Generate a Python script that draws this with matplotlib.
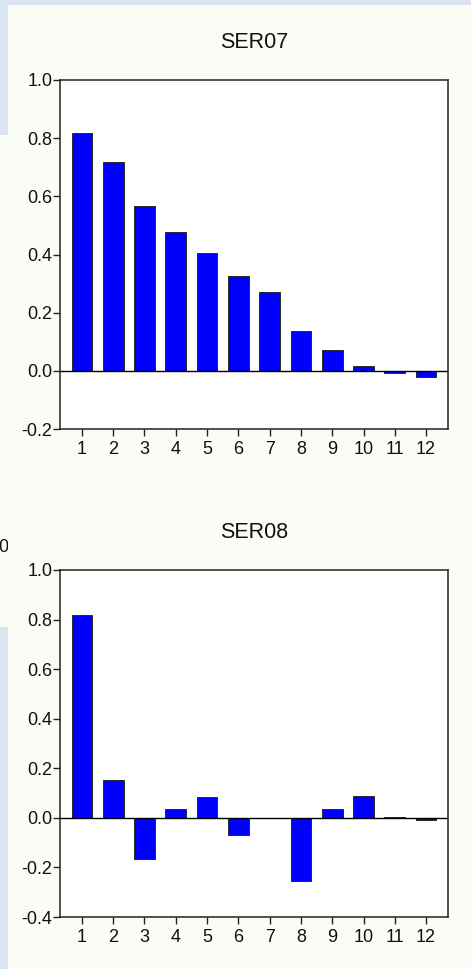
import matplotlib
matplotlib.use("Agg")
import matplotlib.pyplot as plt
from matplotlib.patches import Rectangle
from matplotlib.transforms import Bbox, TransformedBbox

# Correlogram values per lag
lags = list(range(1, 13))
ser07 = [0.818, 0.718, 0.568, 0.476, 0.404, 0.325, 0.271, 0.137, 0.070, 0.016, -0.009, -0.022]
ser08 = [0.817, 0.151, -0.165, 0.035, 0.083, -0.068, 0.0, -0.253, 0.035, 0.088, 0.002, -0.007]
titles = ["SER07", "SER08"]
ylims = [(-0.2, 1.0), (-0.4, 1.0)]
yticks = [[-0.2, 0.0, 0.2, 0.4, 0.6, 0.8, 1.0],
          [-0.4, -0.2, 0.0, 0.2, 0.4, 0.6, 0.8, 1.0]]

W, H = 471, 969
BG = "#FCFCF7"
PANEL = "#DBE5F1"
plt.rcParams["font.family"] = ["Liberation Sans", "DejaVu Sans"]

fig = plt.figure(figsize=(W / 100, H / 100), dpi=100, facecolor=BG)

def px_rect(x0, y0, x1, y1):
    """Figure-fraction rectangle from pixel coordinates (top-left origin)."""
    return (x0 / W, 1 - y1 / H, (x1 - x0) / W, (y1 - y0) / H)

# light blue window frame pieces
for x0, y0, x1, y1 in [(0, 0, W, 5), (0, 0, 8, 135), (0, 627, 8, H)]:
    l, b, w, h = px_rect(x0, y0, x1, y1)
    fig.patches.append(Rectangle((l, b), w, h, transform=fig.transFigure,
                                 facecolor=PANEL, edgecolor="none", zorder=0))

# cut-off label from the neighbouring graph
t = fig.text(8 / W, 1 - 548 / H, "00", ha="center", va="center",
             fontsize=13, color="#111111")
t.set_clip_box(TransformedBbox(Bbox([[0, 0], [8 / W, 1]]), fig.transFigure))
t.set_clip_on(True)

panels = [(60, 80, 448, 429), (60, 570, 448, 917)]
title_y = [42, 533]
series = [ser07, ser08]

for i, (x0, y0, x1, y1) in enumerate(panels):
    ax = fig.add_axes(px_rect(x0, y0, x1, y1))
    ax.set_facecolor("white")
    ax.bar(lags, series[i], width=0.66, color="#0000FF",
           edgecolor="#2a2a2a", linewidth=0.7, zorder=2)
    ax.axhline(0, color="black", linewidth=1.0, zorder=3)
    ax.set_xlim(0.3, 12.7)
    ax.set_ylim(*ylims[i])
    ax.set_xticks(lags)
    ax.set_xticklabels([str(v) for v in lags])
    ax.set_yticks(yticks[i])
    ax.set_yticklabels([f"{v:.1f}" for v in yticks[i]])
    ax.tick_params(axis="both", direction="out", length=5, width=1.0,
                   color="#222222", labelsize=13, labelcolor="#111111")
    ax.tick_params(axis="x", pad=3.5)
    ax.tick_params(axis="y", pad=0.5)
    for s in ax.spines.values():
        s.set_color("#222222")
        s.set_linewidth(1.1)
    fig.text(254 / W, 1 - title_y[i] / H, titles[i], ha="center", va="center",
             fontsize=15.5, color="#111111")

fig.savefig("out.png", dpi=100, facecolor=BG)
